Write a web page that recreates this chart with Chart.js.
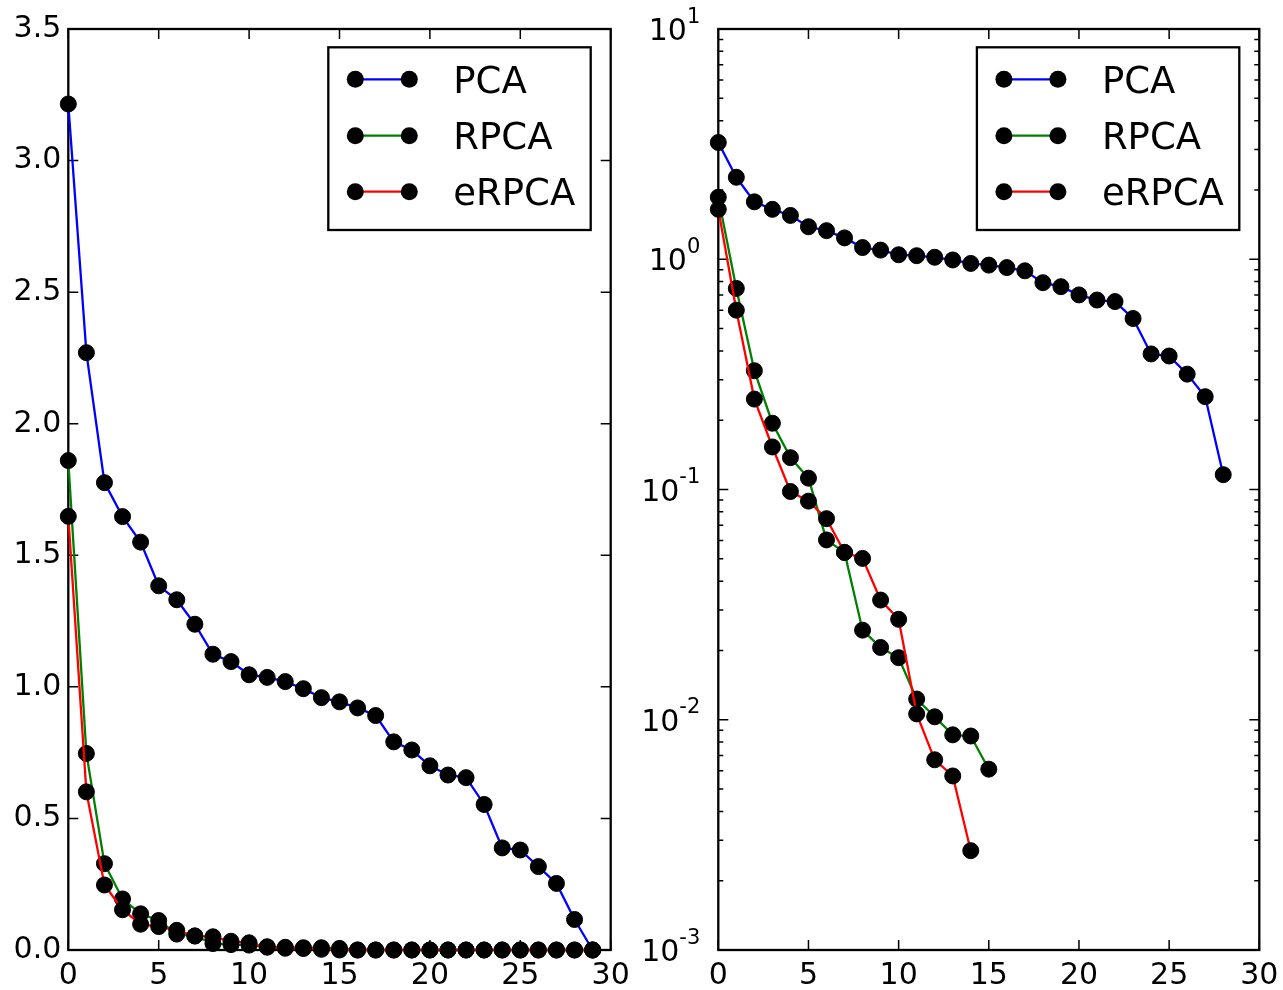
<!DOCTYPE html>
<html>
<head>
<meta charset="utf-8">
<script src="https://cdn.jsdelivr.net/npm/chart.js@4.4.1/dist/chart.umd.min.js"></script>
<style>
  html, body { margin: 0; padding: 0; background: #fff; overflow: hidden; }
  #wrap { position: relative; width: 1283px; height: 990px; overflow: hidden; background: #fff; }
  #linChart { position: absolute; left: 0; top: 0; }
  #logChart { position: absolute; left: 630px; top: 0; }
</style>
</head>
<body>
<div id="wrap">
  <canvas id="linChart" width="640" height="990"></canvas>
  <canvas id="logChart" width="665" height="990"></canvas>
</div>
<script>
// Component index (x) for every series
const component = [0, 1, 2, 3, 4, 5, 6, 7, 8, 9, 10, 11, 12, 13, 14, 15, 16, 17, 18, 19, 20, 21, 22, 23, 24, 25, 26, 27, 28, 29];

const seriesNames = ['PCA', 'RPCA', 'eRPCA'];
const seriesColors = ['#0000ff', '#008000', '#ff0000'];

// Singular value spectra
const pca = [3.215, 2.27, 1.776, 1.647, 1.55, 1.384, 1.331, 1.238, 1.124, 1.096, 1.046, 1.036, 1.02, 0.993, 0.959, 0.943, 0.92, 0.891, 0.791, 0.76, 0.7, 0.665, 0.655, 0.553, 0.388, 0.38, 0.317, 0.253, 0.116, 0];
const rpca = [1.86, 0.747, 0.328, 0.194, 0.1375, 0.112, 0.0604, 0.0533, 0.0245, 0.0206, 0.0186, 0.0123, 0.0103, 0.0086, 0.0085, 0.0061, 0, 0, 0, 0, 0, 0, 0, 0, 0, 0, 0, 0, 0, 0];
const erpca = [1.648, 0.601, 0.247, 0.153, 0.098, 0.089, 0.0747, 0.0533, 0.0502, 0.0331, 0.0273, 0.0106, 0.0067, 0.0057, 0.0027, 0, 0, 0, 0, 0, 0, 0, 0, 0, 0, 0, 0, 0, 0, 0];

// Tick values
const xTicks = [0, 5, 10, 15, 20, 25, 30];
const yTicksLinear = [0, 0.5, 1.0, 1.5, 2.0, 2.5, 3.0, 3.5];
const yTicksLog = [0.001, 0.01, 0.1, 1, 10];

const FONT = 'DejaVu Sans';
Chart.defaults.font.family = FONT;
Chart.defaults.color = '#000';

const allSeries = [pca, rpca, erpca];

function makeDatasets(logScale) {
  return allSeries.map((vals, i) => ({
    label: seriesNames[i],
    data: component.map((c, j) => ({ x: c, y: logScale ? (vals[j] > 0 ? vals[j] : null) : vals[j] })),
    borderColor: seriesColors[i],
    backgroundColor: '#000',
    borderWidth: 2.3,
    pointRadius: 8,
    pointBorderWidth: 1,
    pointBorderColor: '#000',
    pointBackgroundColor: '#000',
    pointHoverRadius: 8,
    tension: 0,
    spanGaps: false,
    clip: false,
    order: 3 - i
  }));
}

// Axes box with inward ticks on all four sides
function framePlugin(logScale) {
  return {
    id: 'frame',
    beforeDatasetsDraw(chart) {
      const { ctx, chartArea: a, scales } = chart;
      const xs = scales.x, ys = scales.y;
      ctx.save();
      ctx.strokeStyle = '#000';
      ctx.lineWidth = 1.5;
      ctx.beginPath();
      xTicks.forEach(v => {
        const px = xs.getPixelForValue(v);
        ctx.moveTo(px, a.bottom); ctx.lineTo(px, a.bottom - 10);
        ctx.moveTo(px, a.top); ctx.lineTo(px, a.top + 10);
      });
      const yMajor = logScale ? yTicksLog : yTicksLinear;
      yMajor.forEach(v => {
        const py = ys.getPixelForValue(v);
        ctx.moveTo(a.left, py); ctx.lineTo(a.left + 10, py);
        ctx.moveTo(a.right, py); ctx.lineTo(a.right - 10, py);
      });
      if (logScale) {
        for (let d = 0; d < yTicksLog.length - 1; d++) {
          for (let k = 2; k <= 9; k++) {
            const py = ys.getPixelForValue(yTicksLog[d] * k);
            ctx.moveTo(a.left, py); ctx.lineTo(a.left + 5, py);
            ctx.moveTo(a.right, py); ctx.lineTo(a.right - 5, py);
          }
        }
      }
      ctx.stroke();
      ctx.lineWidth = 2.3;
      ctx.strokeRect(a.left, a.top, a.right - a.left, a.bottom - a.top);
      ctx.restore();
    }
  };
}

// Legend box in the upper right corner
const legendPlugin = {
  id: 'boxLegend',
  afterDatasetsDraw(chart) {
    const { ctx, chartArea: a } = chart;
    const w = 262.4, h = 182.7;
    const right = a.right - 20, top = a.top + 18.3;
    const left = right - w;
    ctx.save();
    ctx.fillStyle = '#fff';
    ctx.fillRect(left, top, w, h);
    ctx.strokeStyle = '#000';
    ctx.lineWidth = 2.3;
    ctx.strokeRect(left, top, w, h);
    const rows = [32, 88.4, 144.4];
    chart.data.datasets.forEach((ds, i) => {
      const y = top + rows[i];
      const x1 = left + 27, x2 = left + 81;
      ctx.strokeStyle = ds.borderColor;
      ctx.lineWidth = 2.3;
      ctx.beginPath(); ctx.moveTo(x1, y); ctx.lineTo(x2, y); ctx.stroke();
      ctx.fillStyle = '#000';
      [x1, x2].forEach(x => { ctx.beginPath(); ctx.arc(x, y, 8.5, 0, Math.PI * 2); ctx.fill(); });
      ctx.font = '37px "' + FONT + '"';
      ctx.textAlign = 'left';
      ctx.textBaseline = 'alphabetic';
      ctx.fillText(ds.label, left + 125, y + 13.5);
    });
    ctx.restore();
  }
};

// Power-of-ten labels for the logarithmic axis
const logLabelPlugin = {
  id: 'logLabels',
  afterDraw(chart) {
    const { ctx, chartArea: a, scales } = chart;
    ctx.save();
    ctx.fillStyle = '#000';
    ctx.textBaseline = 'alphabetic';
    ctx.textAlign = 'left';
    yTicksLog.forEach(v => {
      const py = scales.y.getPixelForValue(v);
      const exp = String(Math.round(Math.log10(v)));
      ctx.font = '30px "' + FONT + '"';
      const wBase = ctx.measureText('10').width;
      ctx.font = '21px "' + FONT + '"';
      const wExp = ctx.measureText(exp).width;
      const x0 = a.left - 18 - wBase - wExp;
      ctx.font = '30px "' + FONT + '"';
      ctx.fillText('10', x0, py + 11);
      ctx.font = '21px "' + FONT + '"';
      ctx.fillText(exp, x0 + wBase, py - 6.3);
    });
    ctx.restore();
  }
};

function xScale() {
  return {
    type: 'linear',
    min: 0, max: 30,
    afterBuildTicks: s => { s.ticks = xTicks.map(v => ({ value: v })); },
    afterFit: s => { s.height = 40; },
    grid: { display: false, drawTicks: false },
    border: { display: false },
    ticks: { font: { size: 30 }, color: '#000', padding: 8, maxRotation: 0, autoSkip: false, callback: v => String(v) }
  };
}

new Chart(document.getElementById('linChart'), {
  type: 'line',
  data: { datasets: makeDatasets(false) },
  options: {
    responsive: false, animation: false, devicePixelRatio: 1,
    layout: { padding: { left: 0, right: 29.3, top: 29, bottom: 0 } },
    plugins: { legend: { display: false }, tooltip: { enabled: false } },
    scales: {
      x: xScale(),
      y: {
        type: 'linear', min: 0, max: 3.5,
        afterBuildTicks: s => { s.ticks = yTicksLinear.map(v => ({ value: v })); },
        afterFit: s => { s.width = 68.3; },
        grid: { display: false, drawTicks: false },
        border: { display: false },
        ticks: { font: { size: 30 }, color: '#000', padding: 7, autoSkip: false, callback: v => Number(v).toFixed(1) }
      }
    }
  },
  plugins: [framePlugin(false), legendPlugin]
});

new Chart(document.getElementById('logChart'), {
  type: 'line',
  data: { datasets: makeDatasets(true) },
  options: {
    responsive: false, animation: false, devicePixelRatio: 1,
    layout: { padding: { left: 0, right: 35.7, top: 29, bottom: 0 } },
    plugins: { legend: { display: false }, tooltip: { enabled: false } },
    scales: {
      x: xScale(),
      y: {
        type: 'logarithmic', min: 0.001, max: 10,
        afterBuildTicks: s => { s.ticks = yTicksLog.map(v => ({ value: v })); },
        afterFit: s => { s.width = 88.3; },
        grid: { display: false, drawTicks: false },
        border: { display: false },
        ticks: { font: { size: 30 }, autoSkip: false, callback: () => '' }
      }
    }
  },
  plugins: [framePlugin(true), legendPlugin, logLabelPlugin]
});
</script>
</body>
</html>
